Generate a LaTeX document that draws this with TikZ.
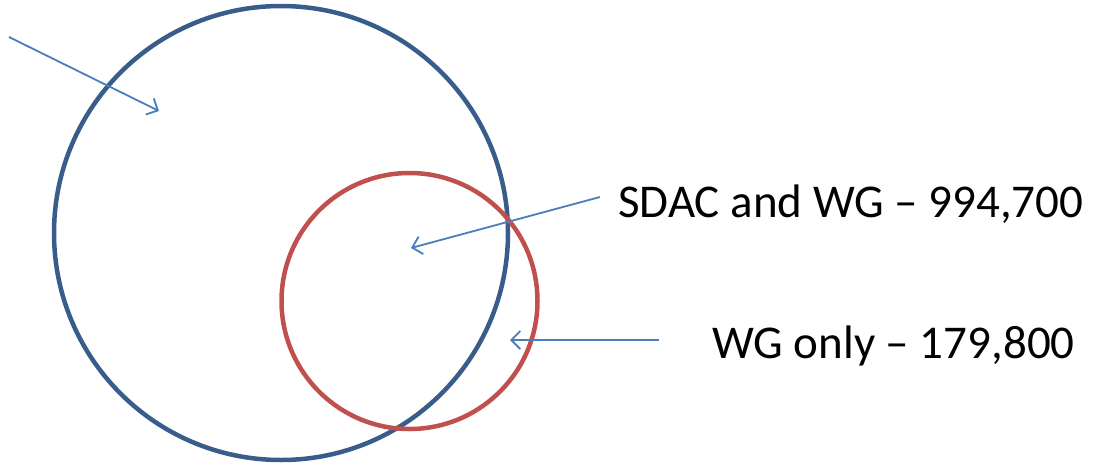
\documentclass[tikz,border=0pt]{standalone}
\usepackage{fontspec}
\setmainfont{Carlito}
\usetikzlibrary{arrows.meta}
\definecolor{bluecirc}{HTML}{385D8A}
\definecolor{redcirc}{HTML}{C0504D}
\definecolor{arrowblue}{HTML}{4A7EBB}
\tikzset{
  vennblue/.style={draw=bluecirc, line width=4.5pt},
  vennred/.style={draw=redcirc, line width=4.5pt},
  pointer/.style={draw=arrowblue, line width=1.8pt, -{Straight Barb[length=9pt,width=18pt,line width=1.8pt]}},
  label/.style={font=\fontsize{47}{56}\selectfont, anchor=base west, inner sep=0pt, text=black}
}
\begin{document}
\begin{tikzpicture}[x=1pt,y=-1pt]
\useasboundingbox (0,0) rectangle (1098,464);
\draw[vennblue] (281,233) circle (227);
\draw[vennred] (409.5,301) circle (128);
\coordinate (s1) at (9,37);
\coordinate (e1) at (159,111);
\draw[pointer] (s1) -- (e1);
\node[label] (t1) at (618,217) {SDAC and WG – 994,700};
\node[label] (t2) at (712,358) {WG only – 179,800};
\coordinate (s2) at (600,197);
\coordinate (e2) at (411,248);
\draw[pointer] (s2) -- (e2);
\coordinate (s3) at (659,340);
\coordinate (e3) at (510,340);
\draw[pointer] (s3) -- (e3);
\end{tikzpicture}
\end{document}
